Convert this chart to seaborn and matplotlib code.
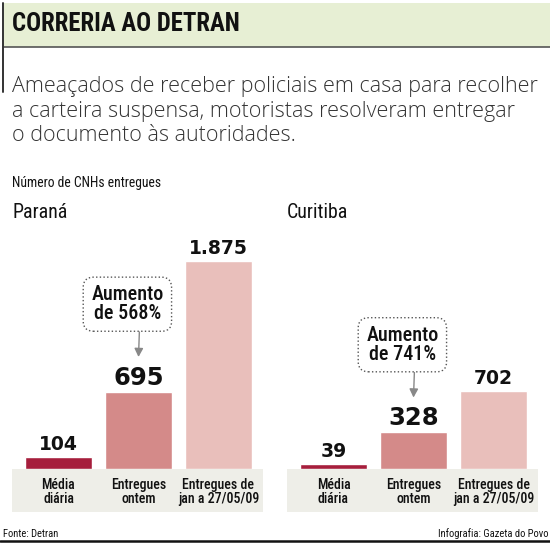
import numpy as np
import pandas as pd
import seaborn as sns
import matplotlib
matplotlib.use("Agg")
import matplotlib.pyplot as plt
from matplotlib import font_manager as fm
from matplotlib.patches import Rectangle
from matplotlib.lines import Line2D
import matplotlib.transforms as mtransforms

# ---------------- data ----------------
title = "CORRERIA AO DETRAN"
subtitle = ("Ameaçados de receber policiais em casa para recolher\n"
            "a carteira suspensa, motoristas resolveram entregar\n"
            "o documento às autoridades.")
measure_label = "Número de CNHs entregues"
categories = ["Média\ndiária", "Entregues\nontem", "Entregues de\njan a 27/05/09"]
regions = ["Paraná", "Curitiba"]
parana_values = [104, 695, 1875]
curitiba_values = [39, 328, 702]
increase_labels = ["Aumento\nde 568%", "Aumento\nde 741%"]
source = "Fonte: Detran"
credit = "Infografia: Gazeta do Povo"

# ---------------- style ----------------
bar_colors = ["#a61e3c", "#d48a89", "#e9bfbb"]
band_color = "#eeeee8"
title_bg = "#e7efd4"

sns.set_theme(style="white")
names = {f.name for f in fm.fontManager.ttflist}
def pick(*cands):
    for c in cands:
        if c in names:
            return c
    return "DejaVu Sans"

NARROW = pick("Liberation Sans Narrow", "Roboto Condensed", "Open Sans Condensed", "Roboto")
LIGHT = pick("Open Sans", "Lato", "Roboto")
plt.rcParams["font.family"] = [NARROW, "DejaVu Sans"]

W, H = 550, 544
fig = plt.figure(figsize=(W / 100, H / 100), dpi=100)
fig.patch.set_facecolor("white")

def fx(x):
    return x / W

def fy(y):
    return 1 - y / H

# header
fig.patches.append(Rectangle((fx(3), fy(47)), fx(547), 44 / H, transform=fig.transFigure,
                             facecolor=title_bg, edgecolor="none", zorder=-1))
fig.lines.append(Line2D([fx(3), fx(550)], [fy(47), fy(47)], transform=fig.transFigure,
                        color="#555555", lw=1.2))
fig.lines.append(Line2D([fx(2.5), fx(2.5)], [fy(3), fy(92)], transform=fig.transFigure,
                        color="#333333", lw=1.4))
fig.text(fx(12), fy(24), title, fontsize=17.8, fontweight="bold", color="#111111",
         va="center", ha="left")
fig.text(fx(12), fy(111), subtitle, fontsize=15.5, family=[LIGHT, "DejaVu Sans"],
         fontweight="light", color="#333333", va="center", ha="left", linespacing=1.22)
fig.text(fx(12), fy(183), measure_label, fontsize=9.8, color="#111111", va="center", ha="left")

# footer
fig.text(fx(3), fy(534), source, fontsize=7.6, color="#111111", va="center", ha="left")
fig.text(fx(548), fy(534), credit, fontsize=7.6, color="#111111", va="center", ha="right")
fig.lines.append(Line2D([0, 1], [fy(541), fy(541)], transform=fig.transFigure,
                        color="#111111", lw=1.8))

px_per_unit = 0.1105
ax_top, ax_bottom = 200, 468.5
ymax = (ax_bottom - ax_top) / px_per_unit
bar_w = 67 / 80

def fmt(v):
    return f"{v:,}".replace(",", ".")

def panel(x0, region, values, note):
    # category band
    fig.patches.append(Rectangle((fx(x0), fy(512)), 251 / W, 43.5 / H, transform=fig.transFigure,
                                 facecolor=band_color, edgecolor="none", zorder=-1))
    ax = fig.add_axes([fx(x0), fy(ax_bottom), 251 / W, (ax_bottom - ax_top) / H])
    ax.patch.set_alpha(0)
    df = pd.DataFrame({"cat": categories, "val": values})
    sns.barplot(data=df, x="cat", y="val", hue="cat", palette=bar_colors, width=bar_w,
                saturation=1, legend=False, ax=ax)
    ax.set_xlim(-46.5 / 80, 2 + 44.5 / 80)
    ax.set_ylim(0, ymax)
    ax.set_xlabel("")
    ax.set_ylabel("")
    ax.set_yticks([])
    for s in ax.spines.values():
        s.set_visible(False)
    ax.tick_params(axis="x", length=0, pad=6.5, labelsize=10, labelcolor="#111111")
    for t in ax.get_xticklabels():
        t.set_linespacing(1.0)
        t.set_fontweight("medium")
    off = mtransforms.offset_copy(ax.transData, fig=fig, x=0, y=5, units="points")
    for i, v in enumerate(values):
        size = 17.5 if i == 1 else 13.5
        ax.text(i, v, fmt(v), transform=off, ha="center", va="baseline",
                fontsize=size, fontweight="bold", family="DejaVu Sans", color="#111111")
    tip = mtransforms.offset_copy(ax.transData, fig=fig, x=0, y=25, units="points")
    ax.annotate(note, xy=(1, values[1]), xycoords=tip, xytext=(-8, 38),
                textcoords="offset points", ha="center", va="center", fontsize=14.5,
                fontweight="medium", color="#111111", linespacing=1.0,
                bbox=dict(boxstyle="round,pad=0.4,rounding_size=0.5", facecolor="white",
                          edgecolor="#555555", linestyle=":", linewidth=1.0),
                arrowprops=dict(arrowstyle="-|>,head_length=0.35,head_width=0.18",
                                color="#888888", lw=1.0, relpos=(0.67, 0.0),
                                shrinkA=0, shrinkB=0))
    fig.text(fx(x0), fy(212), region, fontsize=14.3, color="#111111", va="center", ha="left")
    return ax

panel(12, regions[0], parana_values, increase_labels[0])
panel(287, regions[1], curitiba_values, increase_labels[1])

fig.savefig("out.png", dpi=100, facecolor="white")
